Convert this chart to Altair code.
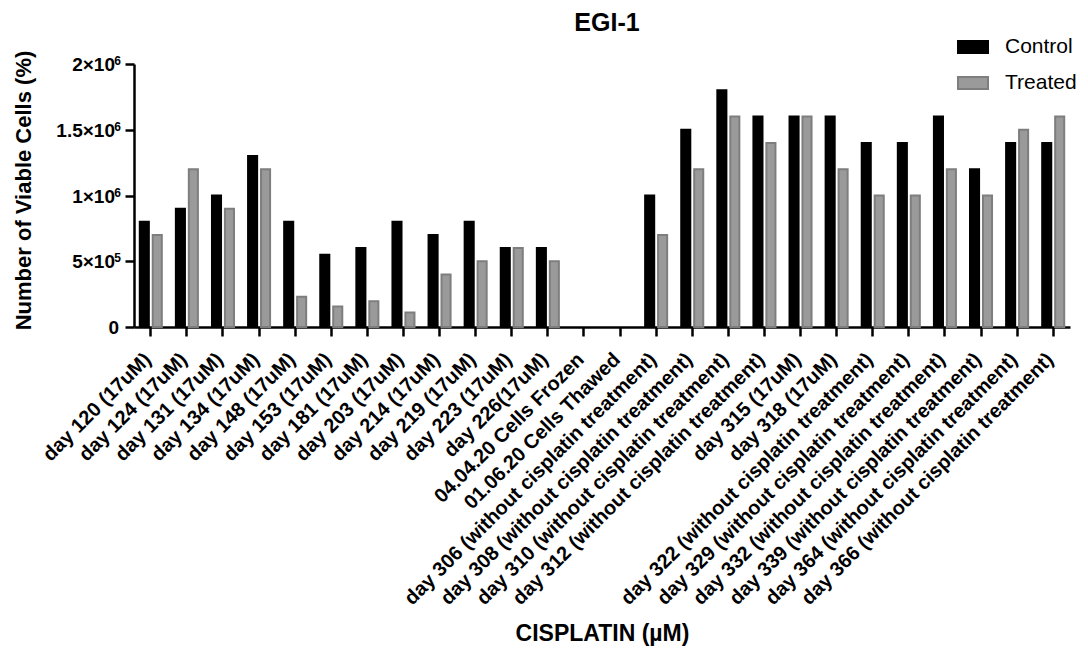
import altair as alt
import pandas as pd

chart_title = "EGI-1"

# Sampling points along the cisplatin time course
categories = [
    "day 120 (17uM)", "day 124 (17uM)", "day 131 (17uM)", "day 134 (17uM)",
    "day 148 (17uM)", "day 153 (17uM)", "day 181 (17uM)", "day 203 (17uM)",
    "day 214 (17uM)", "day 219 (17uM)", "day 223 (17uM)", "day 226(17uM)",
    "04.04.20 Cells Frozen", "01.06.20 Cells Thawed",
    "day 306 (without cisplatin treatment)", "day 308 (without cisplatin treatment)",
    "day 310 (without cisplatin treatment)", "day 312 (without cisplatin treatment)",
    "day 315 (17uM)", "day 318 (17uM)",
    "day 322 (without cisplatin treatment)", "day 329 (without cisplatin treatment)",
    "day 332 (without cisplatin treatment)", "day 339 (without cisplatin treatment)",
    "day 364 (without cisplatin treatment)", "day 366 (without cisplatin treatment)",
]

# Viable cell counts (None = no measurement)
control = [
    800000, 900000, 1000000, 1300000, 800000, 550000, 600000, 800000,
    700000, 800000, 600000, 600000, None, None,
    1000000, 1500000, 1800000, 1600000, 1600000, 1600000,
    1400000, 1400000, 1600000, 1200000, 1400000, 1400000,
]
treated = [
    700000, 1200000, 900000, 1200000, 230000, 155000, 195000, 110000,
    400000, 500000, 600000, 500000, None, None,
    700000, 1200000, 1600000, 1400000, 1600000, 1200000,
    1000000, 1000000, 1200000, 1000000, 1500000, 1600000,
]

series_names = ["Control", "Treated"]
series_fill = ["#000000", "#9a9a9a"]
series_stroke = ["#000000", "#7e7e7e"]

# y tick labels written as mantissa ×10 plus a raised exponent
y_ticks = [0, 500000, 1000000, 1500000, 2000000]
y_base = ["0", "5×10", "1×10", "1.5×10", "2×10"]
y_exp = ["", "5", "6", "6", "6"]

rows = []
for cat, c, t in zip(categories, control, treated):
    if c is not None:
        rows.append({"cat": cat, "series": "Control", "value": c})
    if t is not None:
        rows.append({"cat": cat, "series": "Treated", "value": t})
df = pd.DataFrame(rows)

ticks_df = pd.DataFrame({"value": y_ticks, "base": y_base, "exp": y_exp})
title_df = pd.DataFrame({"title": [chart_title]})

FONT = "Liberation Sans"

y_scale = alt.Scale(domain=[0, 2000000], nice=False)

legend = alt.Legend(
    title=None,
    orient="none",
    legendX=823,
    legendY=-33,
    symbolType="M-1,-0.4H1V0.4H-1Z",
    symbolSize=900,
    symbolStrokeWidth=2,
    labelFontSize=21,
    labelOffset=16,
    rowPadding=10,
    padding=0,
)

bars = alt.Chart(df).mark_bar(strokeWidth=2).encode(
    x=alt.X(
        "cat:N",
        sort=categories,
        scale=alt.Scale(domain=categories, paddingInner=0.39, paddingOuter=0.16),
        axis=alt.Axis(
            title="CISPLATIN (µM)",
            labelAngle=-45,
            labelFontSize=20,
            labelFontWeight="bold",
            labelLimit=0,
            labelPadding=13,
            labelOffset=-10,
            titleFontSize=23,
            titleFontWeight="bold",
            titleBaseline="alphabetic",
            titleY=313,
        ),
    ),
    xOffset=alt.XOffset("series:N", scale=alt.Scale(paddingInner=0.3)),
    y=alt.Y(
        "value:Q",
        scale=y_scale,
        axis=alt.Axis(
            title="Number of Viable Cells (%)",
            values=y_ticks,
            labels=False,
            titleFontSize=22,
            titleFontWeight="bold",
            titleAngle=-90,
            titleBaseline="alphabetic",
            titleX=-104,
            titleY=126,
        ),
    ),
    fill=alt.Fill(
        "series:N",
        scale=alt.Scale(domain=series_names, range=series_fill),
        legend=legend,
    ),
    stroke=alt.Stroke(
        "series:N",
        scale=alt.Scale(domain=series_names, range=series_stroke),
        legend=legend,
    ),
)

# tick label mantissas: those followed by an exponent sit further left
base_with_exp = alt.Chart(ticks_df).transform_filter("datum.exp != ''").mark_text(
    align="right", baseline="alphabetic", dy=7, fontSize=19, fontWeight="bold",
    font=FONT, color="black",
).encode(
    x=alt.value(-19),
    y=alt.Y("value:Q", scale=y_scale),
    text="base:N",
)

base_plain = alt.Chart(ticks_df).transform_filter("datum.exp == ''").mark_text(
    align="right", baseline="alphabetic", dy=7, fontSize=19, fontWeight="bold",
    font=FONT, color="black",
).encode(
    x=alt.value(-15),
    y=alt.Y("value:Q", scale=y_scale),
    text="base:N",
)

exponents = alt.Chart(ticks_df).transform_filter("datum.exp != ''").mark_text(
    align="right", baseline="alphabetic", dy=1, fontSize=12, fontWeight="bold",
    font=FONT, color="black",
).encode(
    x=alt.value(-13),
    y=alt.Y("value:Q", scale=y_scale),
    text="exp:N",
)

# chart heading centred over the plot
heading = alt.Chart(title_df).mark_text(
    align="center", baseline="alphabetic", fontSize=25, fontWeight="bold",
    font=FONT, color="black",
).encode(
    x=alt.value(473),
    y=alt.value(-33),
    text="title:N",
)

chart = alt.layer(bars, base_with_exp, base_plain, exponents, heading).properties(
    width=936,
    height=263,
    autosize=alt.AutoSizeParams(type="none"),
    padding={"left": 134, "top": 64, "right": 18, "bottom": 325},
).configure(
    font=FONT,
    background="white",
).configure_view(
    stroke=None,
).configure_axis(
    grid=False,
    domainColor="black",
    domainWidth=2.5,
    tickColor="black",
    tickWidth=2.5,
    tickSize=9,
    labelColor="black",
    titleColor="black",
    labelFont=FONT,
    titleFont=FONT,
    zindex=1,
).configure_legend(
    labelFont=FONT,
    labelColor="black",
)

chart.save("out.html", embed_options={"renderer": "svg", "actions": False})
